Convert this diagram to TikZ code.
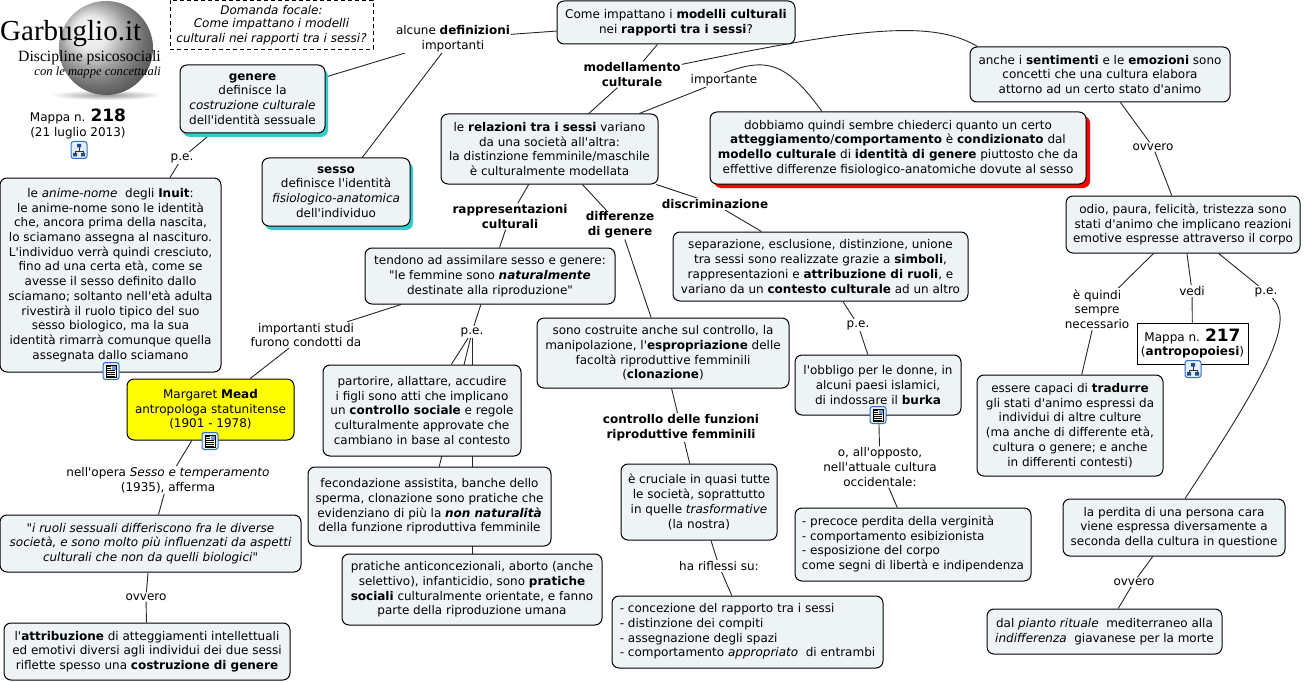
\documentclass[tikz,border=0pt]{standalone}
\usepackage{fontspec}
\setmainfont[Ligatures=TeXOff]{DejaVu Sans}
\newfontfamily\logofont{Liberation Serif}
\usetikzlibrary{backgrounds,shadows}
\definecolor{conceptfill}{HTML}{EEF4F6}
\definecolor{meadyellow}{RGB}{255,255,0}
\definecolor{tealshade}{HTML}{33CCCC}
\definecolor{iconblue}{HTML}{2E6FC4}
\definecolor{iconpale}{HTML}{E4EEFA}
\tikzset{
    concept/.style={draw=black,line width=1,fill=conceptfill,rounded corners=7,inner sep=0,align=center,font=\fontsize{12}{14.7}\selectfont},
    tealbox/.style={concept,general shadow={shadow xshift=3pt,shadow yshift=-4pt,fill=tealshade}},
    redbox/.style={concept,general shadow={shadow xshift=4pt,shadow yshift=-4pt,fill=red}},
    linkword/.style={fill=white,inner sep=1,yshift=-1pt,align=center,font=\fontsize{12}{14.7}\selectfont},
    edge/.style={draw=black!85,line width=0.9},
    treeicon/.pic={
        \draw[iconblue,line width=1,fill=iconpale,rounded corners=2.5] (-8,-8.5) rectangle (8,8.5);
        \draw[black!80,line width=0.6] (0,-3) -- (0,1) (-4,1) -- (4,1) (-4,1) -- (-4,4) (4,1) -- (4,4);
        \fill[iconblue!70!black] (-2,-6) rectangle (2,-2.5) (-6,3) rectangle (-2,6.5) (2,3) rectangle (6,6.5);
    },
    docicon/.pic={
        \draw[iconblue,line width=1,fill=iconpale,rounded corners=2.5] (-8,-8.5) rectangle (8,8.5);
        \fill[yellow!12,draw=black,line width=0.5] (-5,-6) rectangle (5,6.5);
        \fill[iconblue!70] (0.5,-5.5) rectangle (4.5,-1.5);
        \draw[black,line width=0.6] (-4,-4.5) -- (-0.5,-4.5) (-4,-2.5) -- (-0.5,-2.5) (-4,-0.5) -- (4,-0.5) (-4,1.5) -- (4,1.5) (-4,3.5) -- (4,3.5) (-4,5.2) -- (4,5.2);
    },
}
\begin{document}
\begin{tikzpicture}[x=1pt,y=-1pt]
    \useasboundingbox (0,0) rectangle (1304,682);

    \shade[inner color=black!40,outer color=white] (106,95) ellipse (56 and 5);
    \shade[ball color=black!12] (106,48) circle (47);
    \node[inner sep=0,anchor=base west,font=\logofont\fontsize{29}{29}\selectfont] (logoname) at (0,41) {Garbuglio.it};
    \node[inner sep=0,anchor=base east,font=\logofont\fontsize{15.7}{16}\selectfont] (logoline) at (161,62) {Discipline psicosociali};
    \node[inner sep=0,anchor=base east,font=\logofont\itshape\fontsize{12.6}{13}\selectfont] (logosub) at (161,76) {con le mappe concettuali};

    \node[linkword,fill=none] (mapnumber) at (78,123) {Mappa n. {\fontsize{17}{14.7}\selectfont\textbf{218}}\\(21 luglio 2013)};
    \pic at (79,150) {treeicon};

    \node[concept,fill=white,rounded corners=0,dash pattern=on 4pt off 3pt,minimum width=203,minimum height=49,font=\itshape\fontsize{12}{14.7}\selectfont] (focale) at (271.5,25) {\raisebox{-1pt}{Domanda focale:}\\Come impattano i modelli\\culturali nei rapporti tra i sessi?};
    \node[linkword] (alcune) at (453,37.5) {alcune \textbf{definizioni}\\importanti};
    \node[concept,minimum width=238,minimum height=43] (root) at (676,22.5) {Come impattano i \textbf{modelli culturali}\\nei \textbf{rapporti tra i sessi}?};
    \node[tealbox,minimum width=145,minimum height=68] (genere) at (252.5,99) {\textbf{genere}\\definisce la\\\textit{costruzione culturale}\\dell'identità sessuale};
    \node[tealbox,minimum width=148,minimum height=68] (sesso) at (336,192) {\textbf{sesso}\\definisce l'identità\\\textit{fisiologico-anatomica}\\dell'individuo};
    \node[linkword] (pegenere) at (182,157) {p.e.};
    \node[concept,minimum width=221,minimum height=194] (inuit) at (110.5,275) {le \textit{anime-nome}\ \ degli \textbf{Inuit}:\\le anime-nome sono le identità\\che, ancora prima della nascita,\\lo sciamano assegna al nascituro.\\L'individuo verrà quindi cresciuto,\\fino ad una certa età, come se\\avesse il sesso definito dallo\\sciamano; soltanto nell'età adulta\\rivestirà il ruolo tipico del suo\\sesso biologico, ma la sua\\identità rimarrà comunque quella\\assegnata dallo sciamano};
    \pic at (111,371) {docicon};

    \node[linkword] (studi) at (306,334) {importanti studi\\furono condotti da};
    \node[concept,fill=meadyellow,minimum width=167,minimum height=61] (mead) at (210.5,409.5) {Margaret \textbf{Mead}\\antropologa statunitense\\(1901 - 1978)};
    \pic at (210,441) {docicon};
    \node[linkword] (opera) at (168,479) {nell'opera \textit{Sesso e temperamento}\\(1935), afferma};
    \node[concept,minimum width=301,minimum height=57] (ruoli) at (150.5,543.5) {\textit{"i ruoli sessuali differiscono fra le diverse}\\\textit{società, e sono molto più influenzati da aspetti}\\\textit{culturali che non da quelli biologici"}};
    \node[linkword] (ovveroruoli) at (146,596) {ovvero};
    \node[concept,minimum width=286,minimum height=57] (attribuzione) at (147,651.5) {l'\textbf{attribuzione} di atteggiamenti intellettuali\\ed emotivi diversi agli individui dei due sessi\\riflette spesso una \textbf{costruzione di genere}};

    \node[linkword,font=\bfseries\fontsize{12}{14.7}\selectfont] (modellamento) at (632,73.5) {modellamento\\culturale};
    \node[linkword] (importante) at (724,79) {importante};
    \node[concept,minimum width=217,minimum height=70] (relazioni) at (549.5,149) {le \textbf{relazioni tra i sessi} variano\\da una società all'altra:\\la distinzione femminile/maschile\\è culturalmente modellata};
    \node[redbox,minimum width=376,minimum height=72] (dobbiamo) at (898,148) {dobbiamo quindi sembre chiederci quanto un certo\\\textbf{atteggiamento}/\textbf{comportamento} è \textbf{condizionato} dal\\\textbf{modello culturale} di \textbf{identità di genere} piuttosto che da\\effettive differenze fisiologico-anatomiche dovute al sesso};

    \node[linkword,font=\bfseries\fontsize{12}{14.7}\selectfont] (rappresentazioni) at (510,215.5) {rappresentazioni\\culturali};
    \node[linkword,font=\bfseries\fontsize{12}{14.7}\selectfont] (differenze) at (620,224) {differenze\\di genere};
    \node[linkword,font=\bfseries\fontsize{12}{14.7}\selectfont] (discriminazione) at (715,203) {discriminazione};
    \node[concept,minimum width=250,minimum height=56] (tendono) at (490,276) {tendono ad assimilare sesso e genere:\\"le femmine sono \textbf{\textit{naturalmente}}\\destinate alla riproduzione"};
    \node[linkword] (petendono) at (472,331) {p.e.};
    \node[concept,minimum width=198,minimum height=91] (partorire) at (422,410.5) {partorire, allattare, accudire\\i figli sono atti che implicano\\un \textbf{controllo sociale} e regole\\culturalmente approvate che\\cambiano in base al contesto};
    \node[concept,minimum width=243,minimum height=79] (fecondazione) at (429.5,506.5) {fecondazione assistita, banche dello\\sperma, clonazione sono pratiche che\\evidenziano di più la \textbf{\textit{non naturalità}}\\della funzione riproduttiva femminile};
    \node[concept,minimum width=260,minimum height=71] (pratiche) at (472,589.5) {pratiche anticoncezionali, aborto (anche\\selettivo), infanticidio, sono \textbf{pratiche}\\\textbf{sociali} culturalmente orientate, e fanno\\parte della riproduzione umana};

    \node[concept,minimum width=252,minimum height=70] (costruite) at (663,353) {sono costruite anche sul controllo, la\\manipolazione, l'\textbf{espropriazione} delle\\facoltà riproduttive femminili\\(\textbf{clonazione})};
    \node[linkword,font=\bfseries\fontsize{12}{14.7}\selectfont] (controllo) at (681,426.5) {controllo delle funzioni\\riproduttive femminili};
    \node[concept,minimum width=156,minimum height=76] (cruciale) at (699,502) {è cruciale in quasi tutte\\le società, soprattutto\\in quelle \textit{trasformative}\\(la nostra)};
    \node[linkword] (riflessi) at (719,565) {ha riflessi su:};
    \node[concept,minimum width=271,minimum height=72] (concezione) at (747.5,632) {\begin{tabular}{@{}l@{}}- concezione del rapporto tra i sessi\\- distinzione dei compiti\\- assegnazione degli spazi\\- comportamento \textit{appropriato}\ \ di entrambi\end{tabular}};

    \node[concept,minimum width=295,minimum height=69] (separazione) at (820.5,266.5) {separazione, esclusione, distinzione, unione\\tra sessi sono realizzate grazie a \textbf{simboli},\\rappresentazioni e \textbf{attribuzione di ruoli}, e\\variano da un \textbf{contesto culturale} ad un altro};
    \node[linkword] (peseparazione) at (858,324) {p.e.};
    \node[concept,minimum width=166,minimum height=60] (obbligo) at (878,385) {l'obbligo per le donne, in\\alcuni paesi islamici,\\di indossare il \textbf{burka}};
    \pic at (878,415) {docicon};
    \node[linkword] (opposto) at (880,466) {o, all'opposto,\\nell'attuale cultura\\occidentale:};
    \node[concept,minimum width=236,minimum height=73] (precoce) at (913,544.5) {\begin{tabular}{@{}l@{}}- precoce perdita della verginità\\- comportamento esibizionista\\- esposizione del corpo\\come segni di libertà e indipendenza\end{tabular}};

    \node[concept,minimum width=260,minimum height=55] (sentimenti) at (1100,74.5) {anche i \textbf{sentimenti} e le \textbf{emozioni} sono\\concetti che una cultura elabora\\attorno ad un certo stato d'animo};
    \node[linkword] (ovveroanimo) at (1153,146) {ovvero};
    \node[concept,minimum width=234,minimum height=57] (odio) at (1183,224.5) {odio, paura, felicità, tristezza sono\\stati d'animo che implicano reazioni\\emotive espresse attraverso il corpo};
    \node[linkword] (quindi) at (1097,308) {è quindi\\sempre\\necessario};
    \node[linkword] (vedi) at (1192,290) {vedi};
    \node[linkword] (peodio) at (1266,291) {p.e.};
    \node[concept,fill=white,rounded corners=0,minimum width=111,minimum height=41] (mappa) at (1192.5,343.5) {Mappa n. {\fontsize{17}{14.7}\selectfont\textbf{217}}\\(\textbf{antropopoiesi})};
    \pic at (1193,369) {treeicon};
    \node[concept,minimum width=186,minimum height=101] (essere) at (1070,425.5) {essere capaci di \textbf{tradurre}\\gli stati d'animo espressi da\\individui di altre culture\\(ma anche di differente età,\\cultura o genere; e anche\\in differenti contesti)};
    \node[concept,minimum width=222,minimum height=57] (perdita) at (1174,527.5) {la perdita di una persona cara\\viene espressa diversamente a\\seconda della cultura in questione};
    \node[linkword] (ovveroperdita) at (1134,581) {ovvero};
    \node[concept,minimum width=235,minimum height=45] (pianto) at (1104.5,631.5) {dal \textit{pianto rituale}\ \ mediterraneo alla\\\textit{indifferenza}\ \ giavanese per la morte};

    \begin{scope}[on background layer]
        \draw[edge] (root) -- (alcune);
        \draw[edge] (alcune) -- (genere);
        \draw[edge] (alcune) -- (sesso);
        \draw[edge] (genere) -- (pegenere);
        \draw[edge] (pegenere) -- (inuit);
        \draw[edge] (root) -- (modellamento);
        \draw[edge] (modellamento) -- (relazioni);
        \draw[edge] (modellamento) .. controls (850,30) and (930,18) .. ([xshift=8]sentimenti.north west);
        \draw[edge] (relazioni) -- (importante);
        \draw[edge] (importante.north) .. controls (765,58) and (785,60) .. ([xshift=-76]dobbiamo.north);
        \draw[edge] (relazioni) -- (rappresentazioni);
        \draw[edge] (rappresentazioni) -- (tendono);
        \draw[edge] (relazioni) -- (differenze);
        \draw[edge] (differenze) -- (costruite);
        \draw[edge] (relazioni) -- (discriminazione);
        \draw[edge] (discriminazione) -- (separazione);
        \draw[edge] (tendono) -- (studi);
        \draw[edge] (studi) -- (mead);
        \draw[edge] (tendono) -- (petendono);
        \draw[edge] (petendono) -- (partorire);
        \draw[edge] (petendono) -- (fecondazione);
        \draw[edge] (petendono) -- (pratiche);
        \draw[edge] (mead) -- (opera);
        \draw[edge] (opera) -- (ruoli);
        \draw[edge] (ruoli) -- (ovveroruoli);
        \draw[edge] (ovveroruoli) -- (attribuzione);
        \draw[edge] (costruite) -- (controllo);
        \draw[edge] (controllo) -- (cruciale);
        \draw[edge] (cruciale) -- (riflessi);
        \draw[edge] (riflessi) -- (concezione);
        \draw[edge] (separazione) -- (peseparazione);
        \draw[edge] (peseparazione) -- (obbligo);
        \draw[edge] (obbligo) -- (opposto);
        \draw[edge] (opposto) -- (precoce);
        \draw[edge] (sentimenti) -- (ovveroanimo);
        \draw[edge] (ovveroanimo) -- (odio);
        \draw[edge] (odio) -- (quindi);
        \draw[edge] (quindi) -- (essere);
        \draw[edge] (odio) -- (vedi);
        \draw[edge] (vedi) -- (mappa);
        \draw[edge] (odio) -- (peodio);
        \draw[edge] (peodio) .. controls (1295,320) and (1270,370) .. ([xshift=11]perdita.north);
        \draw[edge] (perdita) -- (ovveroperdita);
        \draw[edge] (ovveroperdita) -- (pianto);
    \end{scope}
\end{tikzpicture}
\end{document}
